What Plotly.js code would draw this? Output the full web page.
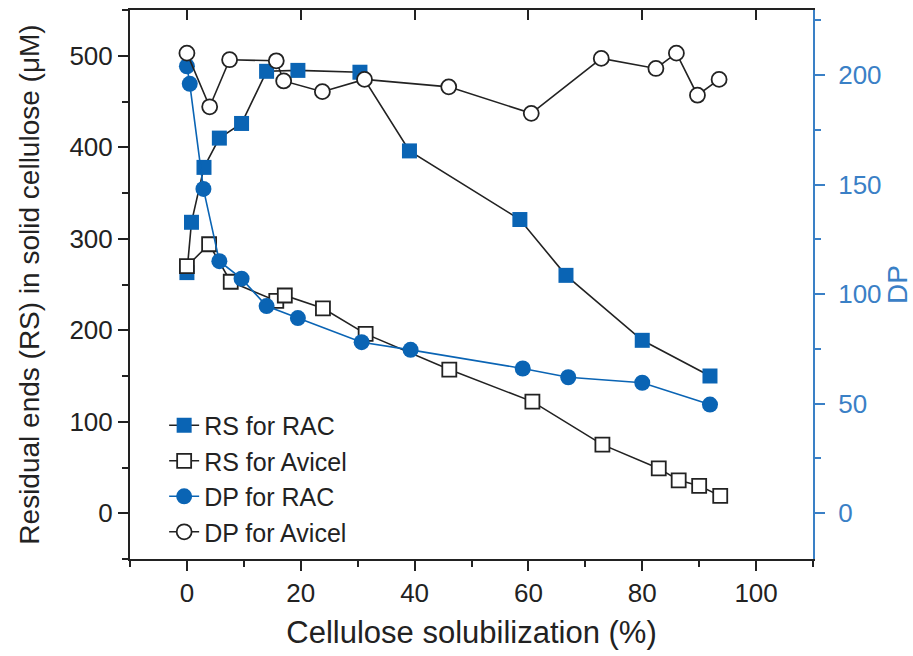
<!DOCTYPE html>
<html>
<head>
<meta charset="utf-8">
<script src="https://cdn.plot.ly/plotly-3.0.1.min.js"></script>
<style>html,body{margin:0;padding:0;background:#fff;}#chart{width:913px;height:656px;}</style>
</head>
<body>
<div id="chart"></div>
<script>
const rsRacX = [0, 0.8, 3.0, 5.7, 9.6, 14.0, 19.5, 30.4, 39.1, 58.5, 66.6, 80.0, 91.9];
const rsRacY = [263, 318, 378, 410, 426, 483, 484, 482, 396, 321, 260, 189, 150];

const rsAviX = [0, 3.9, 7.7, 15.7, 17.2, 23.9, 31.4, 46.1, 60.7, 73.0, 82.9, 86.4, 90.0, 93.7];
const rsAviY = [270, 294, 253, 232, 238, 224, 196, 157, 122, 75, 49, 36, 30, 19];

const dpRacX = [0, 0.5, 2.9, 5.7, 9.6, 14.0, 19.5, 30.7, 39.3, 59.0, 67.0, 80.0, 91.9];
const dpRacY = [204, 196, 148, 115, 107, 94.5, 89, 78, 74.5, 66, 62, 59.5, 49.5];

const dpAviX = [0, 4.0, 7.5, 15.7, 17.0, 23.8, 31.2, 46.0, 60.5, 72.8, 82.4, 86.0, 89.7, 93.5];
const dpAviY = [210, 185.5, 207, 206.5, 197.3, 192.4, 198, 194.6, 182.5, 207.6, 203, 210, 190.8, 198];

const seriesNames = ["RS for RAC", "RS for Avicel", "DP for RAC", "DP for Avicel"];
const xTitle = "Cellulose solubilization (%)";
const yTitle = "Residual ends (RS) in solid cellulose (\u03bcM)";
const y2Title = "DP";

const BLUE = "#0a64b4";
const AXBLUE = "#3a80c6";
const FONT = "Liberation Sans, Arial, sans-serif";

const traces = [
  {x: rsRacX, y: rsRacY, name: seriesNames[0], mode: "lines+markers", yaxis: "y", legendrank: 1,
   line: {color: "#222", width: 1.6},
   marker: {symbol: "square", size: 15, color: BLUE, line: {width: 0}}},
  {x: rsAviX, y: rsAviY, name: seriesNames[1], mode: "lines+markers", yaxis: "y", legendrank: 2,
   line: {color: "#222", width: 1.6},
   marker: {symbol: "square", size: 14, color: "#fff", line: {color: "#222", width: 1.8}}},
  {x: dpRacX, y: dpRacY, name: seriesNames[2], mode: "lines+markers", yaxis: "y2", legendrank: 3,
   line: {color: BLUE, width: 1.6},
   marker: {symbol: "circle", size: 16, color: BLUE, line: {width: 0}}},
  {x: dpAviX, y: dpAviY, name: seriesNames[3], mode: "lines+markers", yaxis: "y2", legendrank: 4,
   line: {color: "#222", width: 1.6},
   marker: {symbol: "circle", size: 15, color: "#fff", line: {color: "#222", width: 1.8}}},
  // invisible trace to activate the top (mirror) axis
  {x: [0], y: [0], xaxis: "x2", yaxis: "y", mode: "markers", showlegend: false, hoverinfo: "skip",
   marker: {opacity: 0}}
];

const layout = {
  width: 913, height: 656,
  margin: {l: 130, r: 100, t: 10, b: 97},
  paper_bgcolor: "#fff", plot_bgcolor: "#fff",
  font: {family: FONT, color: "#222", size: 26},
  showlegend: true,
  legend: {x: 0.05, y: 0.285, xanchor: "left", yanchor: "top", bgcolor: "rgba(0,0,0,0)",
           font: {family: FONT, size: 25, color: "#222"}, tracegroupgap: 0},
  xaxis: {range: [-10, 110], tick0: 0, dtick: 20, ticks: "outside", ticklen: 10, tickwidth: 2,
          tickcolor: "#222", showline: true, linewidth: 2, linecolor: "#222",
          showgrid: false, zeroline: false,
          minor: {dtick: 10, ticks: "outside", ticklen: 6, tickwidth: 2, tickcolor: "#222", showgrid: false},
          tickfont: {family: FONT, size: 26, color: "#222"},
          title: {text: xTitle, font: {family: FONT, size: 31, color: "#222"}, standoff: 14}},
  xaxis2: {range: [-10, 110], tick0: 0, dtick: 20, overlaying: "x", side: "top", ticks: "inside",
           ticklen: 10, tickwidth: 2, tickcolor: "#222", showticklabels: false, showline: true,
           linewidth: 2, linecolor: "#222", showgrid: false, zeroline: false},
  yaxis: {range: [-50, 550], tick0: 0, dtick: 100, ticks: "outside", ticklen: 10, tickwidth: 2,
          tickcolor: "#222", showline: true, linewidth: 2, linecolor: "#222",
          showgrid: false, zeroline: false,
          minor: {dtick: 50, ticks: "outside", ticklen: 6, tickwidth: 2, tickcolor: "#222", showgrid: false},
          tickfont: {family: FONT, size: 26, color: "#222"},
          title: {text: yTitle, font: {family: FONT, size: 28, color: "#222"}, standoff: 22}},
  yaxis2: {range: [-21, 229.7], tick0: 0, dtick: 50, overlaying: "y", side: "right",
           ticks: "outside", ticklen: 10, tickwidth: 2, tickcolor: AXBLUE, ticklabelstandoff: 8,
           showline: true, linewidth: 2, linecolor: AXBLUE, showgrid: false, zeroline: false,
           minor: {dtick: 25, ticks: "outside", ticklen: 6, tickwidth: 2, tickcolor: AXBLUE, showgrid: false},
           tickfont: {family: FONT, size: 26, color: AXBLUE},
           title: {text: y2Title, font: {family: FONT, size: 28, color: AXBLUE}, standoff: 10}}
};

Plotly.newPlot("chart", traces, layout, {displayModeBar: false, staticPlot: true});
</script>
</body>
</html>
